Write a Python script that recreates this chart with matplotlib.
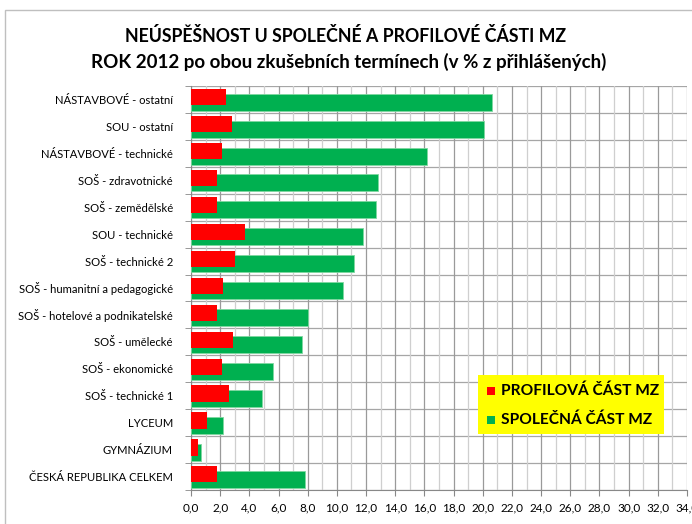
import numpy as np
import matplotlib.pyplot as plt
from matplotlib.patches import Rectangle
from matplotlib.ticker import MultipleLocator, FuncFormatter

plt.rcParams['font.family'] = ['Lato', 'DejaVu Sans']

categories = ['NÁSTAVBOVÉ - ostatní', 'SOU - ostatní', 'NÁSTAVBOVÉ - technické',
              'SOŠ - zdravotnické', 'SOŠ - zemědělské', 'SOU - technické',
              'SOŠ - technické 2', 'SOŠ - humanitní a pedagogické',
              'SOŠ - hotelové a podnikatelské', 'SOŠ - umělecké', 'SOŠ - ekonomické',
              'SOŠ - technické 1', 'LYCEUM', 'GYMNÁZIUM', 'ČESKÁ REPUBLIKA CELKEM']
profilova = [2.4, 2.8, 2.1, 1.8, 1.8, 3.7, 3.0, 2.2, 1.8, 2.9, 2.1, 2.6, 1.1, 0.5, 1.8]
spolecna = [20.6, 20.1, 16.2, 12.8, 12.7, 11.8, 11.2, 10.4, 8.0, 7.6, 5.6, 4.9, 2.2, 0.7, 7.8]

W, H = 692, 524
fig = plt.figure(figsize=(W / 100, H / 100), dpi=100)
fig.patches.append(Rectangle((5 / W, -0.1), 1.2, 1.1 - 10 / H, transform=fig.transFigure,
                             fill=False, edgecolor='#BFBFBF', linewidth=1.0))

ax = fig.add_axes([191 / W, 1 - 490 / H, (687 - 191) / W, (490 - 86) / H])

y = np.arange(len(categories))
ax.barh(y + 0.10, spolecna, height=0.63, color='#00B050', edgecolor='#7FD8A0',
        linewidth=0.6, zorder=3)
ax.barh(y - 0.08, profilova, height=0.60, color='#FF0000', linewidth=0, zorder=4)

ax.set_xlim(0, 34)
ax.set_ylim(len(categories) - 0.5, -0.5)
ax.xaxis.set_major_locator(MultipleLocator(2))
ax.xaxis.set_minor_locator(MultipleLocator(1))
ax.xaxis.set_major_formatter(FuncFormatter(lambda v, p: f'{v:.1f}'.replace('.', ',')))
ax.grid(which='major', axis='x', color='#9A9A9A', linewidth=0.9, zorder=0)
ax.grid(which='minor', axis='x', color='#CFCFCF', linewidth=0.9, zorder=0)
for b in np.arange(-0.5, len(categories), 1.0):
    ax.axhline(b, color='#A6A6A6', linewidth=0.9, zorder=1)

ax.set_yticks(y)
ax.set_yticklabels(categories, fontsize=8.1)
ax.set_yticks(np.arange(-0.5, len(categories), 1.0), minor=True)
ax.tick_params(axis='y', which='major', length=0, pad=13)
ax.tick_params(axis='y', which='minor', length=4, color='#888888', direction='out')
ax.tick_params(axis='x', which='major', length=4, color='#888888', labelsize=8.5, pad=5)
ax.tick_params(axis='x', which='minor', length=0)
for s in ['top', 'right']:
    ax.spines[s].set_visible(False)
ax.spines['left'].set_color('#888888')
ax.spines['bottom'].set_color('#888888')

fig.text(346 / W, 1 - 36 / H, 'NEÚSPĚŠNOST U SPOLEČNÉ A PROFILOVÉ ČÁSTI MZ',
         ha='center', va='center', fontsize=12.8, fontweight='bold')
fig.text(349 / W, 1 - 62 / H, 'ROK 2012 po obou zkušebních termínech (v % z přihlášených)',
         ha='center', va='center', fontsize=13.5, fontweight='bold')

# legend box
fig.patches.append(Rectangle((478 / W, 1 - 434 / H), (664 - 478) / W, (434 - 375) / H,
                             transform=fig.transFigure, facecolor='#FFFF00',
                             edgecolor='none', zorder=5))
for i, (lab, col) in enumerate([('PROFILOVÁ ČÁST MZ', '#FF0000'),
                                 ('SPOLEČNÁ ČÁST MZ', '#00B050')]):
    yy = 1 - (391 + i * 29) / H
    fig.patches.append(Rectangle((487 / W, yy - 4 / H), 8 / W, 8 / H,
                                 transform=fig.transFigure, facecolor=col,
                                 edgecolor='none', zorder=6))
    fig.text(501 / W, yy, lab, ha='left', va='center', fontsize=11.2,
             fontweight='bold', zorder=7)

fig.savefig('out.png', dpi=100)
